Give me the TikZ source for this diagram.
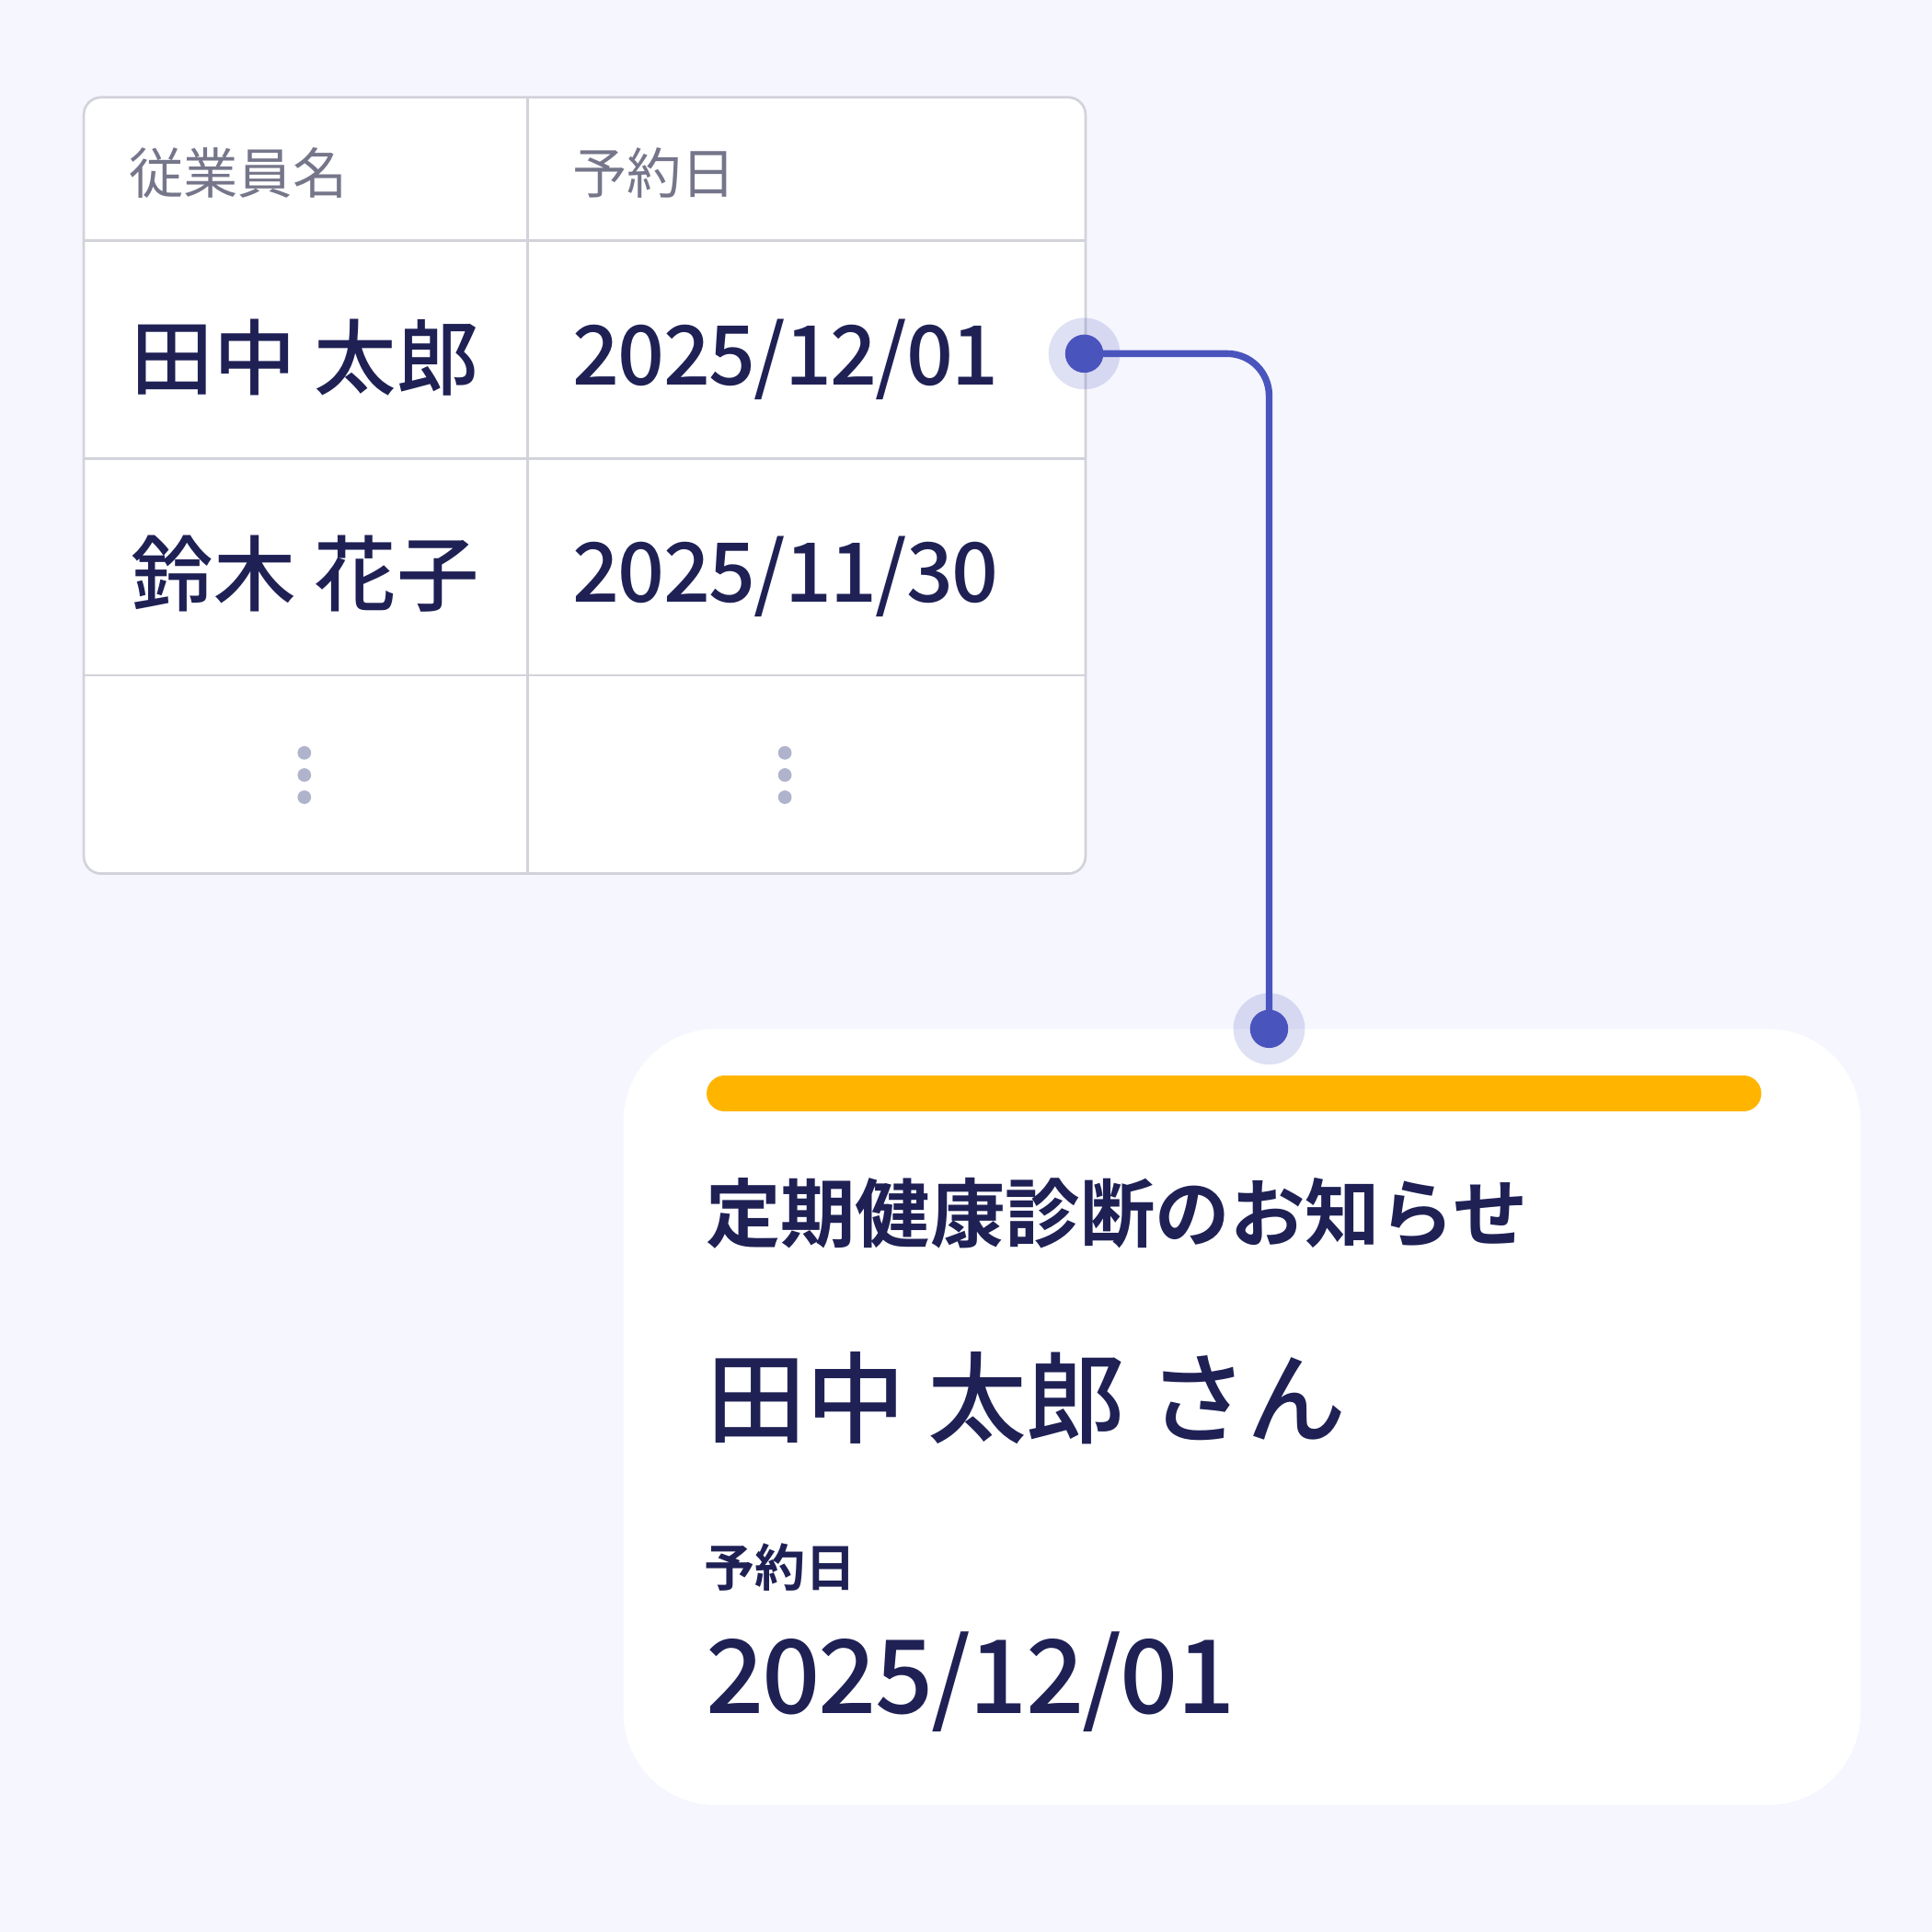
\documentclass[tikz,border=0pt]{standalone}
\usepackage{fontspec}
\newfontfamily\jp{Noto Sans CJK JP}[BoldFont={Noto Sans CJK JP Bold}]
\newfontfamily\jpmed{Noto Sans CJK JP Medium}
\newfontfamily\jpnum{Noto Sans CJK JP Medium}[LetterSpace=-1.8]
\usetikzlibrary{positioning}

\definecolor{pagebg}{HTML}{F5F6FE}
\definecolor{ink}{HTML}{1F2155}
\definecolor{headgray}{HTML}{75768A}
\definecolor{gridline}{HTML}{D2D2DA}
\definecolor{pincol}{HTML}{4A54BD}
\definecolor{moredot}{HTML}{B0B3CC}
\definecolor{notebar}{HTML}{FFB400}

\tikzset{
  head/.style={anchor=west,inner sep=0pt,text=headgray,font=\jp\fontsize{12.6}{15}\selectfont},
  cell/.style={anchor=west,inner sep=0pt,text=ink,font=\jpmed\fontsize{19}{22}\selectfont},
  numcell/.style={cell,font=\jpnum\fontsize{19}{22}\selectfont},
  grid/.style={draw=gridline,line width=0.2mm},
  halo/.style={circle,inner sep=0pt,minimum size=5.8mm,fill=pincol,fill opacity=0.18},
  pindot/.style={circle,inner sep=0pt,minimum size=3.1mm,fill=pincol},
  more/.style={circle,inner sep=0pt,minimum size=1.1mm,fill=moredot},
  link/.style={draw=pincol,line width=0.55mm,rounded corners=3.4mm}
}

\begin{document}
\begin{tikzpicture}[x=0.1mm,y=-0.1mm]
\fill[pagebg] (0,0) rectangle (1568,1568);
\useasboundingbox (0,0) rectangle (1568,1568);

% table
\draw[grid,fill=white,rounded corners=1.4mm] (68,79) rectangle (881,709);
\foreach \y in {195,372,548}
  \draw[grid] (68,\y) -- (881,\y);
\draw[grid] (428,79) -- (428,709);

\node[head] (hname) at (104,140) {従業員名};
\node[head] (hdate) at (464,140) {予約日};
\node[cell] (name1) at (106,290) {田中 太郎};
\node[numcell] (date1) at (464,292) {2025/12/01};
\node[cell] (name2) at (106,466) {鈴木 花子};
\node[numcell] (date2) at (464,468) {2025/11/30};
\foreach \x/\c in {247/a,637/b}
  \foreach \y [count=\i] in {611,629,647}
    \node[more] (more-\c\i) at (\x,\y) {};

% notice card
\fill[white,rounded corners=7.5mm] (506,835) rectangle (1510,1465);
\draw[notebar,line width=2.9mm,line cap=round] (588,887.5) -- (1415,887.5);
\node[anchor=west,inner sep=0pt,text=ink,font=\jp\bfseries\fontsize{17.3}{20}\selectfont]
  (title) at (572,985) {定期健康診断のお知らせ};
\node[anchor=west,inner sep=0pt,text=ink,font=\jpmed\fontsize{22.9}{26}\selectfont]
  (who) at (573,1135) {田中 太郎 さん};
\node[anchor=west,inner sep=0pt,text=ink,font=\jp\bfseries\fontsize{11.7}{14}\selectfont]
  (label) at (571,1272) {予約日};
\node[anchor=west,inner sep=0pt,text=ink,font=\jpnum\fontsize{23.6}{27}\selectfont]
  (when) at (572,1365) {2025/12/01};

% connector
\node[halo] (haloA) at (880,287) {};
\node[halo] (haloB) at (1030,835) {};
\node[pindot] (pinA) at (haloA) {};
\node[pindot] (pinB) at (haloB) {};
\draw[link] (pinA.center) -| (pinB.center);
\end{tikzpicture}
\end{document}
